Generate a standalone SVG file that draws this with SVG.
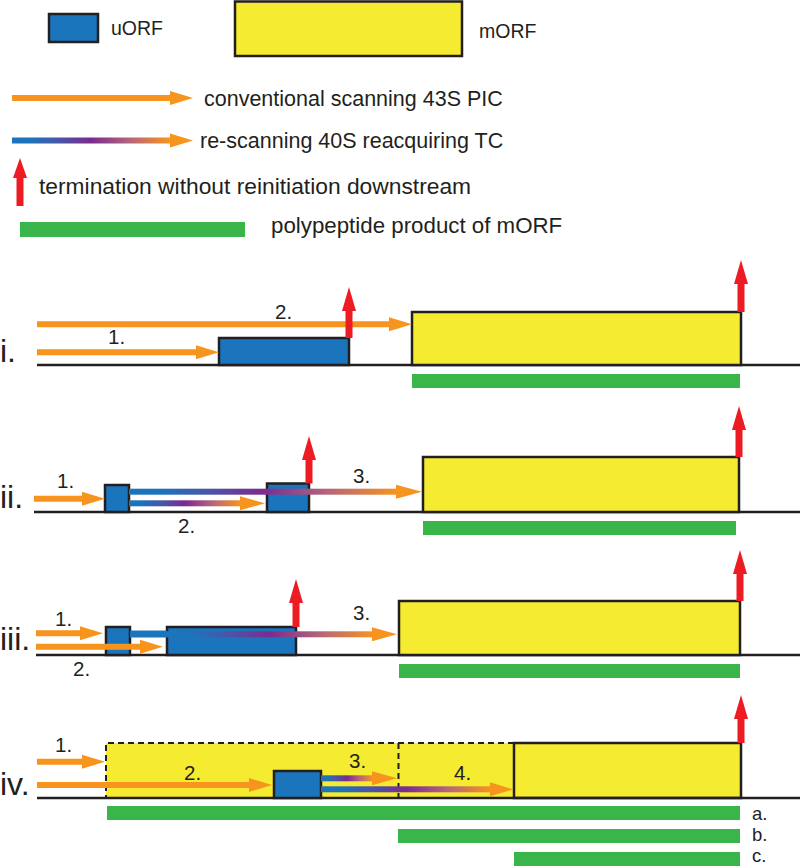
<svg xmlns="http://www.w3.org/2000/svg" width="800" height="866" viewBox="0 0 800 866">
<style>
text{font-family:"Liberation Sans",Arial,sans-serif;fill:#231f20}
.u{fill:#1b75bc;stroke:#231f20;stroke-width:2.5}
.m{fill:#f5ec31;stroke:#231f20;stroke-width:2.5}
.dash{fill:#f5ec31;stroke:#231f20;stroke-width:2;stroke-dasharray:6 4}
.ax{stroke:#231f20;stroke-width:2.5}
.g{fill:#39b54a}
.o{fill:#f7941d}
.r{fill:#ed1c24}
.gs{fill:url(#grad)}
.num{font-size:20.5px}
.row{font-size:32px}
.leg{font-size:21.5px}
.abc{font-size:18.5px}
</style>
<defs>
<linearGradient id="grad" x1="0" y1="0" x2="1" y2="0">
<stop offset="0" stop-color="#1b75bc"/>
<stop offset="0.12" stop-color="#1f72ba"/>
<stop offset="0.3" stop-color="#4a55a6"/>
<stop offset="0.5" stop-color="#7b2b8f"/>
<stop offset="0.75" stop-color="#b7667a"/>
<stop offset="1" stop-color="#f7941d"/>
</linearGradient>
</defs>

<g id="legend">
<g id="legend-uorf"><rect class="u" x="49" y="14" width="49" height="28"/><text x="111" y="35" font-size="19.5">uORF</text></g>
<g id="legend-morf"><rect class="m" x="235" y="1.5" width="227" height="54.5"/><text x="479" y="38" font-size="19.5">mORF</text></g>
<g id="legend-scan"><path class="o" d="M12,95 H170 V91 L193,98 L170,105 V101 H12 Z"/><text x="204" y="106" class="leg">conventional scanning 43S PIC</text></g>
<g id="legend-rescan"><rect class="gs" x="12" y="137.5" width="158" height="6"/><path class="o" d="M170,133.5 L193,140.5 L170,147.5 Z"/><text x="200" y="148" class="leg">re-scanning 40S reacquiring TC</text></g>
<g id="legend-term"><path class="r" d="M16.5,206 V178 H13 L20,158 L27,178 H23.5 V206 Z"/><text x="39" y="194" font-size="22.8">termination without reinitiation downstream</text></g>
<g id="legend-poly"><rect class="g" x="20" y="222" width="225" height="15"/><text x="271" y="233" font-size="22.3">polypeptide product of mORF</text></g>
</g>

<!-- Row i -->
<g id="row-i">
<text x="0" y="362" class="row">i.</text>
<line class="ax" x1="37" y1="365" x2="800" y2="365"/>
<g id="i-uorf"><rect class="u" x="219" y="338" width="130" height="27"/></g>
<g id="i-morf"><rect class="m" x="412" y="312" width="329" height="53"/></g>
<g id="i-poly"><rect class="g" x="412" y="374" width="328" height="14"/></g>
</g>

<!-- Row ii -->
<g id="row-ii">
<text x="0" y="508" class="row">ii.</text>
<line class="ax" x1="34" y1="512" x2="800" y2="512"/>
<g id="ii-uorf1"><rect class="u" x="105" y="485" width="24" height="27"/></g>
<g id="ii-uorf2"><rect class="u" x="267" y="483.5" width="42" height="28.5"/></g>
<g id="ii-morf"><rect class="m" x="423" y="457" width="316" height="55"/></g>
<g id="ii-poly"><rect class="g" x="423" y="521" width="313" height="14"/></g>
</g>

<!-- Row iii -->
<g id="row-iii">
<text x="0" y="650" class="row">iii.</text>
<line class="ax" x1="36" y1="655" x2="800" y2="655"/>
<g id="iii-uorf1"><rect class="u" x="106" y="627" width="24" height="28"/></g>
<g id="iii-uorf2"><rect class="u" x="167" y="627" width="129" height="28"/></g>
<g id="iii-morf"><rect class="m" x="399" y="601" width="341" height="54"/></g>
<g id="iii-poly"><rect class="g" x="399" y="664" width="341" height="14"/></g>
</g>

<!-- Row iv -->
<g id="row-iv">
<text x="0" y="795" class="row">iv.</text>
<g id="iv-dashed"><path class="dash" d="M514,743 H106 V798 H514"/><line x1="398.5" y1="743" x2="398.5" y2="798" stroke="#231f20" stroke-width="2" stroke-dasharray="6 4"/></g>
<g id="iv-morf"><rect class="m" x="514" y="743" width="227" height="55"/></g>
<line class="ax" x1="37" y1="798" x2="800" y2="798"/>
<g id="iv-uorf"><rect class="u" x="274" y="771" width="47" height="27"/></g>
<g id="iv-poly-a"><rect class="g" x="107" y="806" width="633" height="14"/><text x="752" y="820" class="abc">a.</text></g>
<g id="iv-poly-b"><rect class="g" x="398" y="829" width="342" height="14"/><text x="752" y="841" class="abc">b.</text></g>
<g id="iv-poly-c"><rect class="g" x="514" y="852" width="226" height="14"/><text x="752" y="862" class="abc">c.</text></g>
</g>

<g id="connectors">
<!-- row i -->
<path class="o" d="M37,321.3 H389 V317.3 L412,324.3 L389,331.3 V327.3 H37 Z"/>
<path class="o" d="M37,349.3 H196 V345.3 L219,352.3 L196,359.3 V355.3 H37 Z"/>
<path class="r" d="M345.5,338 V311 H342 L349,287 L356,311 H352.5 V338 Z"/>
<path class="r" d="M737.5,312 V284 H734 L741,260 L748,284 H744.5 V312 Z"/>
<text x="108" y="344" class="num">1.</text>
<text x="275" y="319" class="num">2.</text>
<!-- row ii -->
<path class="o" d="M34,495.7 H82 V491.7 L105,498.7 L82,505.7 V501.7 H34 Z"/>
<rect class="gs" x="129" y="488.7" width="268" height="6"/>
<path class="o" d="M396,484.7 L422,491.7 L396,498.7 Z"/>
<rect class="gs" x="129" y="500.3" width="112" height="6"/>
<path class="o" d="M240,496.3 L265,503.3 L240,510.3 Z"/>
<path class="r" d="M305.5,483.5 V460 H302 L309,436 L316,460 H312.5 V483.5 Z"/>
<path class="r" d="M735.5,457 V430 H732 L739,406 L746,430 H742.5 V457 Z"/>
<text x="57" y="488" class="num">1.</text>
<text x="178" y="533" class="num">2.</text>
<text x="353" y="483" class="num">3.</text>
<!-- row iii -->
<path class="o" d="M36,630.3 H80 V626.3 L103,633.3 L80,640.3 V636.3 H36 Z"/>
<rect x="130" y="630.5" width="37" height="7" fill="#1b75bc"/>
<rect class="gs" x="167" y="631.3" width="206" height="6"/>
<path class="o" d="M372,627.3 L397,634.3 L372,641.3 Z"/>
<path class="o" d="M36,643.7 H140 V639.7 L163,646.7 L140,653.7 V649.7 H36 Z"/>
<path class="r" d="M292.5,627 V603 H289 L296,579 L303,603 H299.5 V627 Z"/>
<path class="r" d="M736.5,601 V574 H733 L740,550 L747,574 H743.5 V601 Z"/>
<text x="55" y="626" class="num">1.</text>
<text x="73" y="676" class="num">2.</text>
<text x="353" y="620" class="num">3.</text>
<!-- row iv -->
<path class="o" d="M37,758.7 H82 V754.7 L105,761.7 L82,768.7 V764.7 H37 Z"/>
<path class="o" d="M37,782 H249 V778 L272,785 L249,792 V788 H37 Z"/>
<rect class="gs" x="321" y="775.3" width="52" height="6"/>
<path class="o" d="M372,771.3 L397,778.3 L372,785.3 Z"/>
<rect class="gs" x="321" y="786.3" width="170" height="6"/>
<path class="o" d="M490,782.3 L513,789.3 L490,796.3 Z"/>
<path class="r" d="M737.5,743 V719 H734 L741,695 L748,719 H744.5 V743 Z"/>
<text x="55" y="752" class="num">1.</text>
<text x="184" y="780" class="num">2.</text>
<text x="349" y="768" class="num">3.</text>
<text x="454" y="780" class="num">4.</text>
</g>
</svg>
